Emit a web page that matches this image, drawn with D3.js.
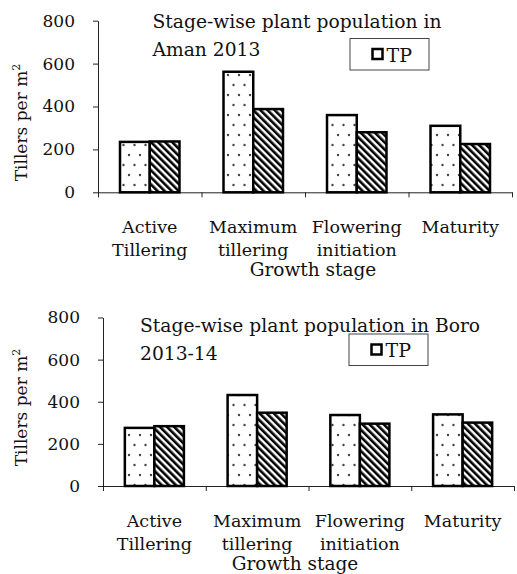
<!DOCTYPE html>
<html>
  <head>
    <meta charset="utf-8">
    <style type="text/css">
      body { margin: 0; background: #fff; }
      svg { display: block; }
      text { font-family: "DejaVu Serif", serif; fill: #111; }
    </style>
    <title>Stage-wise plant population</title>
  </head>
  <body>
    <script src="https://cdn.jsdelivr.net/npm/d3@7/dist/d3.min.js"></script>
    <script>

/*========== Data ==========*/
const stages = [["Active", "Tillering"], ["Maximum", "tillering"], ["Flowering", "initiation"], ["Maturity"]];
const yTicks = [0, 200, 400, 600, 800];
const series = ["dot", "hatch"];

// Aman 2013
const aman_dot = [235, 562, 360, 310];
const aman_hatch = [237, 388, 280, 225];

// Boro 2013-14
const boro_dot = [276, 432, 337, 340];
const boro_hatch = [284, 348, 296, 301];

const legend_label = "TP";

/*========== Zones definitions ==========*/
const W = 517, H = 574;

const svg = d3.select("body").append("svg")
    .attr("width", W)
    .attr("height", H);

// fill patterns for the two series
const defs = svg.append("defs");
const dots = defs.append("pattern")
    .attr("id", "dots")
    .attr("patternUnits", "userSpaceOnUse")
    .attr("width", 11)
    .attr("height", 20);
dots.append("rect").attr("width", 11).attr("height", 20).attr("fill", "#fff");
dots.append("circle").attr("cx", 2.5).attr("cy", 5).attr("r", 1.2).attr("fill", "#444");
dots.append("circle").attr("cx", 8).attr("cy", 15).attr("r", 1.2).attr("fill", "#444");

const hatch = defs.append("pattern")
    .attr("id", "hatch")
    .attr("patternUnits", "userSpaceOnUse")
    .attr("width", 5)
    .attr("height", 5)
    .attr("patternTransform", "rotate(-45)");
hatch.append("rect").attr("width", 5).attr("height", 5).attr("fill", "#fff");
hatch.append("rect").attr("width", 2.6).attr("height", 5).attr("fill", "#000");

const fills = {dot: "url(#dots)", hatch: "url(#hatch)"};

/*========== Panel ==========*/
function drawPanel(p) {
  const g = svg.append("g");

  const y = d3.scaleLinear().domain([0, 800]).range([p.y0, p.y800]);
  const xb = d3.scaleLinear().domain([0, stages.length]).range([p.x0, p.x1]);
  const x = d3.scaleBand().domain(d3.range(stages.length)).range([p.x0, p.x1]);
  const xs = d3.scaleBand().domain(series).range([0, x.bandwidth()]).paddingOuter(0.74);

  // y axis
  const yAxis = g.append("g")
      .attr("transform", `translate(${p.x0},0)`)
      .call(d3.axisLeft(y).tickValues(yTicks).tickSize(5).tickSizeOuter(0).tickPadding(18));
  yAxis.selectAll("text")
      .attr("font-family", "DejaVu Serif")
      .attr("font-size", 17)
      .attr("fill", "#111");
  yAxis.selectAll("line, path").attr("stroke", "#222");

  // x axis (ticks on category boundaries)
  const xAxis = g.append("g")
      .attr("transform", `translate(0,${p.y0})`)
      .call(d3.axisBottom(xb).tickValues(d3.range(stages.length + 1)).tickFormat("").tickSize(5).tickSizeOuter(0));
  xAxis.selectAll("line, path").attr("stroke", "#222");

  // bars
  const data = [];
  stages.forEach((s, i) => {
    data.push({i: i, k: "dot", v: p.dot[i]});
    data.push({i: i, k: "hatch", v: p.hatch[i]});
  });
  g.selectAll("rect.bar")
    .data(data)
    .enter()
    .append("rect")
      .attr("class", "bar")
      .attr("x", d => x(d.i) + xs(d.k))
      .attr("y", d => y(d.v))
      .attr("width", xs.bandwidth())
      .attr("height", d => y(0) - y(d.v))
      .attr("fill", d => fills[d.k])
      .attr("stroke", "#000")
      .attr("stroke-width", 2.5);

  // category labels
  const cat = g.selectAll("text.cat")
    .data(stages)
    .enter()
    .append("text")
      .attr("class", "cat")
      .attr("text-anchor", "middle")
      .attr("font-size", 17.5);
  cat.selectAll("tspan")
    .data((d, i) => d.map(t => ({t: t, i: i})))
    .enter()
    .append("tspan")
      .attr("x", d => x(d.i) + x.bandwidth() / 2)
      .attr("y", (d, j) => p.y0 + 40.5 + j * 23)
      .text(d => d.t);

  // x axis title
  g.append("text")
      .attr("x", p.xTitleX)
      .attr("y", p.y0 + 83.5)
      .attr("text-anchor", "middle")
      .attr("font-size", 18.5)
      .text("Growth stage");

  // y axis title
  const yl = g.append("text")
      .attr("transform", `translate(${p.yLabelX},${p.yLabelY}) rotate(-90)`)
      .attr("text-anchor", "middle")
      .attr("font-size", 17);
  yl.append("tspan").text("Tillers per m");
  yl.append("tspan").attr("dy", -7).attr("font-size", 11).text("2");

  // chart title
  const t = g.append("text").attr("font-size", 18.7);
  p.title.forEach((line, j) => {
    t.append("tspan")
        .attr("x", p.titleX)
        .attr("y", p.titleY + j * 28)
        .text(line);
  });

  // legend
  const lg = g.append("g").attr("transform", `translate(${p.legX},${p.legY})`);
  lg.append("rect")
      .attr("width", 79)
      .attr("height", 31.5)
      .attr("fill", "#fff")
      .attr("stroke", "#444")
      .attr("stroke-width", 1);
  lg.append("rect")
      .attr("x", 22.5)
      .attr("y", 10.5)
      .attr("width", 10)
      .attr("height", 10)
      .attr("fill", "#fff")
      .attr("stroke", "#000")
      .attr("stroke-width", 2.5);
  lg.append("text")
      .attr("x", 36.5)
      .attr("y", 23)
      .attr("font-size", 19)
      .text(legend_label);
}

drawPanel({
  dot: aman_dot, hatch: aman_hatch,
  x0: 98, x1: 512, y0: 192.3, y800: 20.7,
  title: ["Stage-wise plant population in", "Aman 2013"],
  titleX: 152.5, titleY: 27.5,
  legX: 350, legY: 38.5,
  xTitleX: 313, yLabelX: 27, yLabelY: 122.5
});

drawPanel({
  dot: boro_dot, hatch: boro_hatch,
  x0: 103, x1: 514, y0: 486, y800: 317.5,
  title: ["Stage-wise plant population in Boro", "2013-14"],
  titleX: 140, titleY: 332,
  legX: 349, legY: 334,
  xTitleX: 295, yLabelX: 27, yLabelY: 407.5
});

    </script>
  </body>
</html>
